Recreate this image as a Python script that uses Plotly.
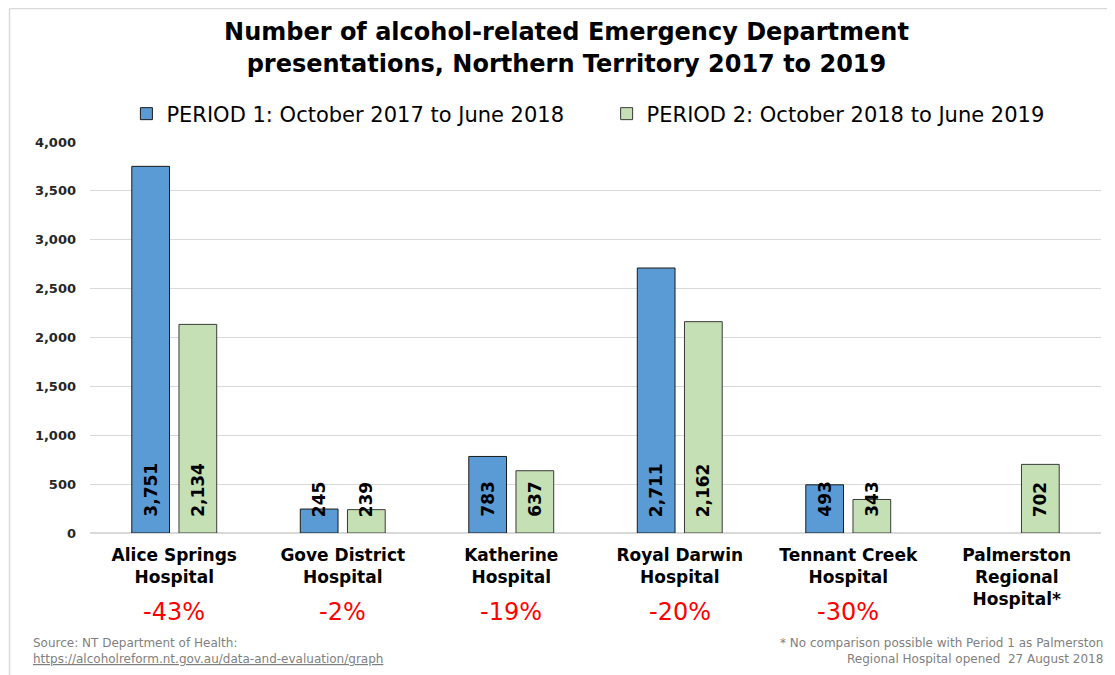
import plotly.graph_objects as go

categories = ["Alice Springs Hospital", "Gove District Hospital", "Katherine Hospital",
              "Royal Darwin Hospital", "Tennant Creek Hospital", "Palmerston Regional Hospital*"]
tick_labels = ["<b>Alice Springs<br>Hospital</b>", "<b>Gove District<br>Hospital</b>",
               "<b>Katherine<br>Hospital</b>", "<b>Royal Darwin<br>Hospital</b>",
               "<b>Tennant Creek<br>Hospital</b>", "<b>Palmerston<br>Regional<br>Hospital*</b>"]
period1 = [3751, 245, 783, 2711, 493, None]
period2 = [2134, 239, 637, 2162, 343, 702]
changes = ["-43%", "-2%", "-19%", "-20%", "-30%", ""]
y_ticks = [0, 500, 1000, 1500, 2000, 2500, 3000, 3500, 4000]

FONT = "DejaVu Sans"

fig = go.Figure()
fig.add_trace(go.Bar(
    x=categories, y=period1, name="PERIOD 1: October 2017 to June 2018",
    marker=dict(color="#5B9BD5", line=dict(color="#1a1a1a", width=1)),
    legend="legend",
))
fig.add_trace(go.Bar(
    x=categories, y=period2, name="PERIOD 2: October 2018 to June 2019",
    marker=dict(color="#C5E0B4", line=dict(color="#3a3a3a", width=1)),
    legend="legend2",
))

# value labels, rotated, anchored near the base of each bar
for vals, shift in ((period1, -23.6), (period2, 23.6)):
    for cat, v in zip(categories, vals):
        if v is None:
            continue
        fig.add_annotation(x=cat, xref="x", y=0, yref="y", text=f"<b>{v:,}</b>",
                           textangle=-90, showarrow=False, xanchor="center", yanchor="bottom",
                           xshift=shift, yshift=14,
                           font=dict(family=FONT, size=17, color="black"))

for cat, ch in zip(categories, changes):
    if ch:
        fig.add_annotation(x=cat, xref="x", y=-0.202, yref="paper", text=ch, showarrow=False,
                           font=dict(family=FONT, size=24, color="#FF0000"), yanchor="middle")

GRAY = "#7F7F7F"
fig.add_annotation(x=-0.0584, xref="paper", y=-0.281, yref="paper", xanchor="left", yanchor="middle",
                   text="Source: NT Department of Health:", showarrow=False,
                   font=dict(family=FONT, size=12, color=GRAY))
fig.add_annotation(x=-0.0584, xref="paper", y=-0.322, yref="paper", xanchor="left", yanchor="middle",
                   text="<u>https://alcoholreform.nt.gov.au/data-and-evaluation/graph</u>", showarrow=False,
                   font=dict(family=FONT, size=12, color=GRAY))
fig.add_annotation(x=1.004, xref="paper", y=-0.281, yref="paper", xanchor="right", yanchor="middle",
                   text="* No comparison possible with Period 1 as Palmerston", showarrow=False,
                   font=dict(family=FONT, size=12, color=GRAY))
fig.add_annotation(x=1.004, xref="paper", y=-0.322, yref="paper", xanchor="right", yanchor="middle",
                   text="Regional Hospital opened  27 August 2018", showarrow=False,
                   font=dict(family=FONT, size=12, color=GRAY))

# chart frame (top and left edges)
fig.add_shape(type="line", xref="paper", yref="paper", x0=-0.0796, x1=1.1, y0=1.3414, y1=1.3414,
              line=dict(color="#D9D9D9", width=1.5))
fig.add_shape(type="line", xref="paper", yref="paper", x0=-0.0796, x1=-0.0796, y0=1.3414, y1=-0.4,
              line=dict(color="#D9D9D9", width=1.5))

legend_font = dict(family=FONT, size=21, color="black")
fig.update_layout(
    width=1107, height=667,
    margin=dict(l=82, r=14, t=134, b=142),
    paper_bgcolor="white", plot_bgcolor="white",
    font=dict(family=FONT, color="black"),
    title=dict(text="<b>Number of alcohol-related Emergency Department<br>presentations, Northern Territory 2017 to 2019</b>",
               x=0.5045, xanchor="center", y=0.9513, yanchor="middle",
               font=dict(family=FONT, size=24, color="black")),
    barmode="group", bargap=0.44, bargroupgap=0.2,
    legend=dict(orientation="h", x=0.036, xanchor="left", y=1.0716, yanchor="middle",
                font=legend_font),
    legend2=dict(orientation="h", x=0.511, xanchor="left", y=1.0716, yanchor="middle",
                 font=legend_font),
    showlegend=True,
)
fig.update_xaxes(tickvals=categories, ticktext=tick_labels, showline=False, ticks="",
                 tickfont=dict(family=FONT, size=17, color="black"), ticklabelstandoff=10)
fig.update_yaxes(range=[0, 4000], tickvals=y_ticks, tickformat=",", showgrid=True,
                 gridcolor="#D9D9D9", gridwidth=1, zeroline=True, zerolinecolor="#D9D9D9",
                 ticks="", tickfont=dict(family=FONT, size=13, color="#262626", weight="bold"),
                 ticklabelstandoff=13)

fig.write_html("out.html")
